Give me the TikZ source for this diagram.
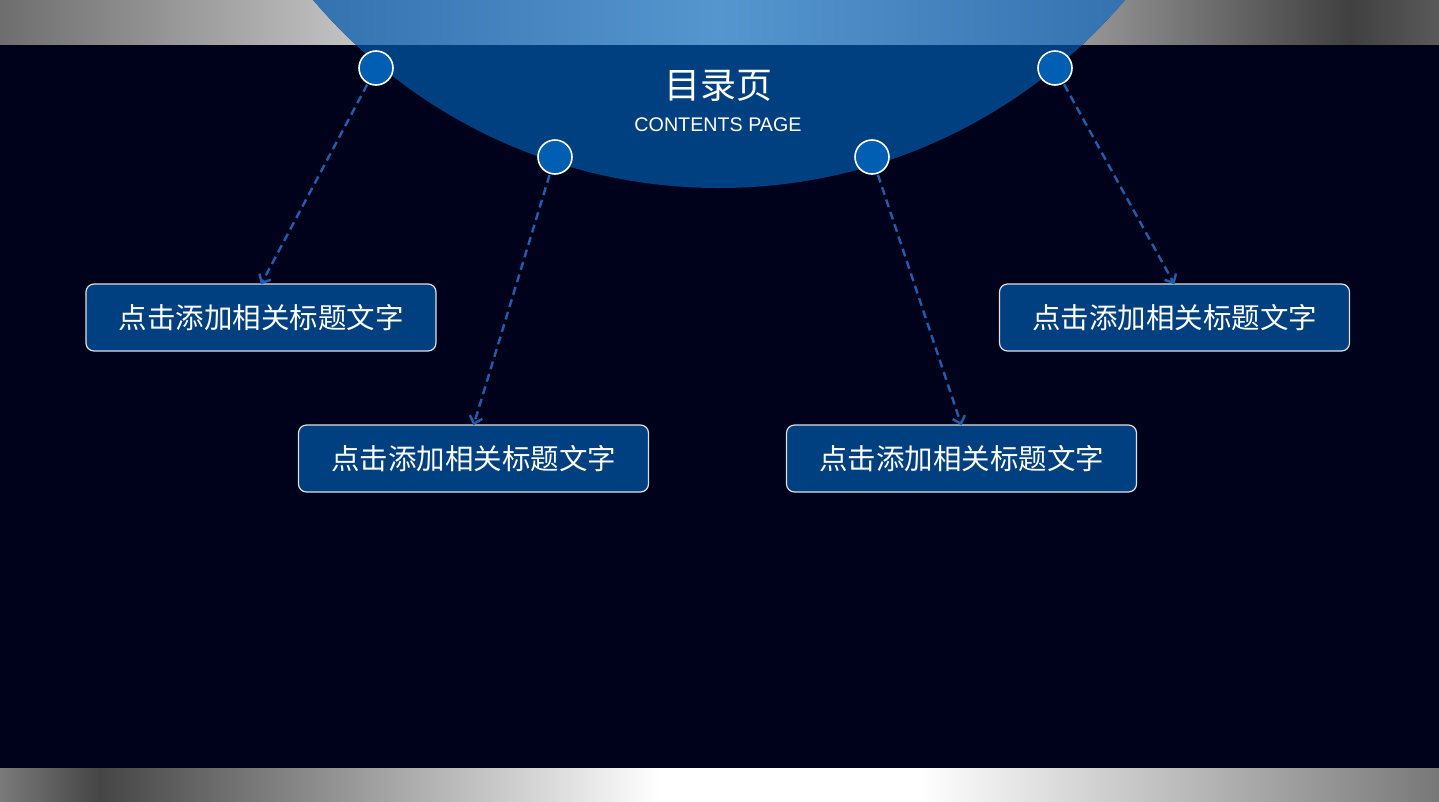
\documentclass[tikz,border=0pt]{standalone}
\usepackage{fontspec}
\setmainfont{Liberation Sans}
\newfontfamily\cjk{Noto Sans CJK SC}
\usetikzlibrary{arrows.meta}
\definecolor{bgnavy}{HTML}{00021C}
\definecolor{deepblue}{HTML}{004080}
\definecolor{dotblue}{HTML}{005FB2}
\definecolor{linkblue}{HTML}{1F5DAE}
\definecolor{capedge}{HTML}{2A67A6}
\definecolor{capmid}{HTML}{5696CF}
\tikzset{
  titlebox/.style={draw=white!88!black, line width=1.2pt, fill=deepblue, rounded corners=8pt,
    minimum width=350pt, minimum height=67pt, text=white, font=\cjk\fontsize{28.5}{30}\selectfont},
  dot/.style={circle, draw=white, line width=1.6pt, fill=dotblue, minimum size=34pt, inner sep=0pt},
  link/.style={linkblue, line width=2.4pt, dash pattern=on 8pt off 5pt, -{Straight Barb[length=7pt,width=13pt]}, shorten <=1pt}
}
\begin{document}
\begin{tikzpicture}[x=1pt, y=-1pt]
\useasboundingbox (0,0) rectangle (1439,801);
% background
\fill[bgnavy] (0,0) rectangle (1439,801);
% top bar
\shade[left color=black!57, right color=black!24] (0,0) rectangle (350,44);
\shade[left color=black!24, right color=black!42] (350,0) rectangle (1090,44);
\shade[left color=black!42, right color=black!75] (1090,0) rectangle (1350,44);
\shade[left color=black!75, right color=black!65] (1350,0) rectangle (1439,44);
% bottom bar
\shade[left color=black!52, right color=black!73] (0,768) rectangle (100,801);
\shade[left color=black!73, right color=white] (100,768) rectangle (660,801);
\fill[white] (660,768) rectangle (920,801);
\shade[left color=white, right color=black!53] (920,768) rectangle (1439,801);
% big half circle
\begin{scope}
\clip (0,0) rectangle (1439,801);
\fill[deepblue] (719,-344) circle (532);
\clip (0,0) rectangle (1439,44);
\shade[left color=capedge, right color=capedge, middle color=capmid] (719,-344) circle (532);
\end{scope}
\node[text=white, font=\cjk\fontsize{36}{38}\selectfont] (title) at (718,86) {目录页};
\node[text=white, font=\fontsize{19.7}{21}\selectfont] (subtitle) at (718,125) {CONTENTS PAGE};
% dots
\node[dot] (d1) at (376,68) {};
\node[dot] (d2) at (555,157) {};
\node[dot] (d3) at (872,157) {};
\node[dot] (d4) at (1055,68) {};
% boxes
\node[titlebox] (b1) at (261,317.5) {点击添加相关标题文字};
\node[titlebox] (b2) at (473.5,458.5) {点击添加相关标题文字};
\node[titlebox] (b3) at (961.5,458.5) {点击添加相关标题文字};
\node[titlebox] (b4) at (1174.5,317.5) {点击添加相关标题文字};
% links
\draw[link] (d1) -- ([yshift=-1pt]b1.north);
\draw[link] (d2) -- ([yshift=-1pt]b2.north);
\draw[link] (d3) -- ([yshift=-1pt]b3.north);
\draw[link] (d4) -- ([yshift=-1pt]b4.north);
\end{tikzpicture}
\end{document}
